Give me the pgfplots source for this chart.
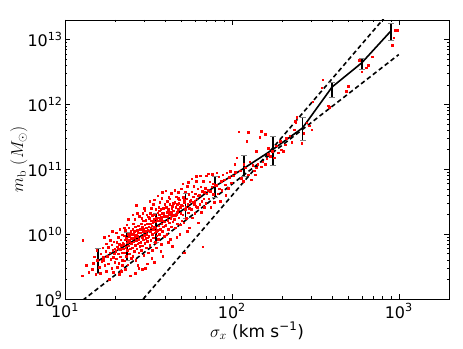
\documentclass[border=0pt]{standalone}
\usepackage[no-math]{fontspec}
\setmainfont{DejaVu Sans}
\usepackage{pgfplots}
\pgfplotsset{compat=1.18}

% binned median with asymmetric scatter
\pgfplotstableread{
x     y       ep      em
15.7  3.86e9  2.21e9  1.43e9
23.5  6.82e9  3.9e9   2.96e9
35.1  1.31e10 7.8e9   5.6e9
52.8  2.51e10 1.76e10 7.5e9
79    5.43e10 2.33e10 1.76e10
118.5 1.04e11 5.8e10  2.64e10
177   2.04e11 1.12e11 8.9e10
265   4.33e11 1.84e11 1.54e11
399   1.86e12 2.8e11  6.0e11
600   4.37e12 6.4e11  9.0e11
903   1.38e13 4.0e12  4.3e12
}\binned

\begin{document}
\begin{tikzpicture}
\useasboundingbox (-65bp,-50bp) rectangle (398bp,299bp);
\begin{axis}[
  at={(0,0)}, anchor=south west,
  scale only axis, width=384bp, height=279bp,
  xmode=log, ymode=log,
  xmin=10, xmax=2000, ymin=1e9, ymax=2e13,
  xtick={10,100,1000},
  xticklabels={10\textsuperscript{1},10\textsuperscript{2},10\textsuperscript{3}},
  ytick={1e9,1e10,1e11,1e12,1e13},
  yticklabels={10\textsuperscript{9},10\textsuperscript{10},10\textsuperscript{11},10\textsuperscript{12},10\textsuperscript{13}},
  tick align=inside,
  major tick length=5bp, minor tick length=2.5bp,
  tick style={black, line width=0.5bp},
  axis line style={line width=0.8bp},
  tick label style={font=\fontsize{16}{18}\selectfont},
  label style={font=\fontsize{17}{19}\selectfont},
  xticklabel style={yshift=-1bp},
  yticklabel style={xshift=1bp},
  xlabel={$\sigma_x$ (km s\textsuperscript{−1})},
  ylabel={$m_{\mathrm{b}}\ (M_{\odot})$},
  xlabel style={at={(axis description cs:0.5,-0.115)}, anchor=center},
  ylabel style={at={(axis description cs:-0.12,0.5)}, anchor=center},
]
% galaxies
\addplot[red, only marks, mark=square*, mark size=0.8bp, mark options={draw=none, fill=red}] coordinates {
(12.8,8.0e9) (12.7,2.3e9) (13.4,3.3e9) (13.9,2.6e9)
(14.5,2.9e9) (15.0,4.5e9) (15.3,2.4e9) (15.6,4.0e9) (14.8,3.6e9) (15.5,5.6e9)
(16.0,3.1e9) (16.2,2.5e9) (16.4,5.0e9) (16.6,3.8e9) (16.8,6.2e9) (17.0,4.4e9) (17.2,9.0e9) (17.3,3.3e9) (17.5,5.4e9) (17.6,2.7e9) (16.9,4.0e9) (17.7,7.1e9)
(17.9,4.6e9) (18.1,3.5e9) (18.2,6.3e9) (18.4,2.0e9) (18.5,5.2e9) (18.7,8.1e9) (18.8,4.1e9) (19.0,3.0e9) (19.1,6.9e9) (19.3,5.6e9) (19.4,4.4e9) (19.5,2.6e9) (19.6,7.6e9) (19.7,5.0e9) (19.8,3.7e9) (19.9,6.0e9) (18.3,9.4e9) (19.2,1.1e10)
(20.1,5.5e9) (20.2,4.2e9) (20.4,7.5e9) (20.5,3.1e9) (20.6,6.4e9) (20.8,9.0e9) (20.9,5.0e9) (21.0,3.6e9) (21.1,7.0e9) (21.3,1.2e10) (21.4,5.8e9) (21.5,4.5e9) (21.6,8.2e9) (21.7,2.7e9) (21.8,6.8e9) (21.9,5.2e9) (22.0,9.8e9) (22.1,4.0e9) (22.2,7.3e9) (22.3,6.0e9) (20.3,1.05e10) (21.2,2.4e9) (22.0,3.3e9) (20.7,6.0e9)
(22.5,7.0e9) (22.6,5.2e9) (22.7,9.5e9) (22.8,3.9e9) (22.9,8.2e9) (23.0,1.15e10) (23.1,6.3e9) (23.2,4.6e9) (23.3,8.8e9) (23.4,1.4e10) (23.5,7.4e9) (23.6,5.6e9) (23.7,1.0e10) (23.8,3.4e9) (23.9,8.0e9) (24.0,6.6e9) (24.1,1.25e10) (24.2,5.0e9) (24.3,9.2e9) (24.4,7.7e9) (24.5,2.3e9) (24.6,6.0e9) (24.7,1.1e10) (24.8,8.5e9) (24.9,4.3e9) (25.0,7.2e9) (23.0,2.9e9) (24.0,1.7e10) (22.6,1.25e10) (24.5,9.9e9)
(25.2,8.6e9) (25.3,6.2e9) (25.4,1.2e10) (25.5,4.6e9) (25.6,1.0e10) (25.7,1.45e10) (25.8,7.6e9) (25.9,5.5e9) (26.0,1.1e10) (26.1,1.7e10) (26.2,9.0e9) (26.3,6.8e9) (26.4,1.3e10) (26.5,4.0e9) (26.6,9.8e9) (26.7,8.0e9) (26.8,2.8e10) (26.9,6.0e9) (27.0,1.15e10) (27.1,9.3e9) (27.2,3.3e9) (27.3,7.1e9) (27.4,1.35e10) (27.5,1.05e10) (27.6,5.2e9) (27.7,8.4e9) (27.8,1.9e10) (27.9,7.4e9) (28.0,1.2e10) (28.1,6.5e9) (25.5,2.0e10) (26.4,2.5e9) (27.0,2.1e10) (27.6,3.0e9)
(28.3,1.05e10) (28.4,7.5e9) (28.5,1.45e10) (28.6,5.6e9) (28.7,1.2e10) (28.8,1.75e10) (28.9,9.0e9) (29.0,6.6e9) (29.1,1.3e10) (29.2,2.1e10) (29.3,1.1e10) (29.4,8.2e9) (29.5,1.6e10) (29.6,4.7e9) (29.7,1.2e10) (29.8,9.7e9) (29.9,2.5e10) (30.0,7.3e9) (30.1,1.4e10) (30.2,1.1e10) (30.3,3.0e9) (30.4,8.6e9) (30.5,1.65e10) (30.6,1.25e10) (30.7,6.2e9) (30.8,1.0e10) (30.9,2.0e10) (31.0,8.8e9) (31.1,1.45e10) (31.2,7.8e9) (31.3,1.15e10) (31.4,5.2e9) (31.5,1.85e10) (29.0,2.9e9) (30.0,2.3e10) (31.0,3.5e9)
(31.7,1.3e10) (31.8,9.2e9) (32.0,1.75e10) (32.1,6.8e9) (32.3,1.45e10) (32.4,2.1e10) (32.5,1.1e10) (32.7,8.0e9) (32.8,1.6e10) (32.9,2.5e10) (33.0,1.35e10) (33.2,1.0e10) (33.3,1.95e10) (33.4,5.7e9) (33.5,1.5e10) (33.7,1.2e10) (33.8,2.9e10) (33.9,8.8e9) (34.0,1.7e10) (34.2,1.3e10) (34.3,3.7e9) (34.4,1.05e10) (34.5,2.0e10) (34.6,1.55e10) (34.8,7.5e9) (34.9,1.25e10) (35.0,2.4e10) (35.1,1.1e10) (35.2,1.75e10) (35.4,9.5e9) (32.2,3.2e10) (33.1,4.3e9) (34.1,3.4e10) (35.3,6.2e9) (32.6,1.25e10) (33.6,1.6e10)
(35.6,1.6e10) (35.8,1.15e10) (35.9,2.15e10) (36.1,8.3e9) (36.2,1.8e10) (36.4,2.6e10) (36.5,1.35e10) (36.7,1.0e10) (36.8,2.0e10) (37.0,3.1e10) (37.1,1.65e10) (37.3,1.2e10) (37.4,2.4e10) (37.6,7.0e9) (37.7,1.85e10) (37.9,1.45e10) (38.0,3.6e10) (38.2,1.1e10) (38.3,2.1e10) (38.5,1.6e10) (38.6,4.6e9) (38.8,1.3e10) (38.9,2.5e10) (39.1,1.9e10) (39.2,9.3e9) (39.4,1.55e10) (39.5,2.9e10) (39.7,1.35e10) (36.0,3.9e10) (37.5,5.5e9) (38.1,4.4e10) (39.0,2.1e10) (36.6,2.3e10) (37.8,1.7e10)
(39.9,1.9e10) (40.1,1.4e10) (40.4,2.6e10) (40.6,1.0e10) (40.8,2.2e10) (41.0,3.2e10) (41.2,1.65e10) (41.4,1.2e10) (41.6,2.4e10) (41.8,3.7e10) (42.0,2.0e10) (42.2,1.5e10) (42.4,2.9e10) (42.6,8.4e9) (42.8,2.2e10) (43.0,1.75e10) (43.2,4.3e10) (43.4,1.3e10) (43.6,2.5e10) (43.8,1.95e10) (44.0,6.5e9) (44.2,1.55e10) (44.4,3.0e10) (44.6,2.3e10) (40.2,4.7e10) (41.5,7.5e9) (42.5,3.5e10) (43.9,2.7e10) (41.1,1.9e10) (43.3,2.1e10)
(44.8,2.3e10) (45.1,1.7e10) (45.4,3.1e10) (45.7,1.25e10) (46.0,2.6e10) (46.3,3.8e10) (46.6,2.0e10) (46.9,1.45e10) (47.2,2.9e10) (47.5,4.4e10) (47.8,2.4e10) (48.1,1.8e10) (48.4,3.4e10) (48.7,1.0e10) (49.0,2.6e10) (49.3,2.1e10) (49.6,5.0e10) (49.9,1.6e10) (45.5,4.8e10) (46.8,9.0e9) (48.0,3.0e10) (49.5,2.8e10) (47.0,2.2e10) (45.9,1.95e10) (48.9,1.4e10) (47.6,3.6e10)
(50.3,2.75e10) (50.7,2.0e10) (51.1,3.7e10) (51.5,1.5e10) (51.9,3.1e10) (52.3,4.5e10) (52.7,2.4e10) (53.1,1.75e10) (53.5,3.5e10) (53.9,5.5e10) (54.3,2.9e10) (54.7,2.15e10) (55.1,4.1e10) (55.5,1.25e10) (55.9,3.2e10) (52.0,5.2e9) (50.8,6.0e10) (54.0,1.1e10) (53.0,2.6e10) (55.3,2.5e10) (51.7,3.3e10) (54.9,6.3e10)
(56.5,3.3e10) (57.0,2.4e10) (57.5,4.5e10) (58.0,1.8e10) (58.5,3.8e10) (59.0,5.5e10) (59.5,2.9e10) (60.0,2.1e10) (60.5,4.2e10) (61.0,6.6e10) (61.5,3.5e10) (62.0,2.6e10) (62.5,5.0e10) (63.0,1.5e10) (57.3,7.2e10) (59.8,3.2e10) (61.2,7.8e10) (58.2,3.1e10) (60.7,2.7e10) (62.3,3.9e10)
(63.6,4.0e10) (64.3,2.9e10) (65.0,5.4e10) (65.7,2.2e10) (66.4,4.6e10) (67.1,6.6e10) (67.8,3.5e10) (68.5,2.6e10) (69.2,5.1e10) (69.9,8.0e10) (70.5,4.2e10) (67.0,6.4e9) (64.8,7.9e10) (68.0,4.4e10) (66.0,3.2e10) (69.5,3.0e10)
(71.5,4.8e10) (72.5,3.5e10) (73.5,6.4e10) (74.5,2.6e10) (75.5,5.4e10) (76.5,8.4e10) (77.5,4.1e10) (78.5,3.1e10) (72.0,8.6e10) (74.0,4.6e10) (77.0,6.0e10) (79.0,5.7e10)
(80.5,5.7e10) (82.0,4.2e10) (83.5,7.7e10) (85.0,3.2e10) (86.5,6.5e10) (88.0,8.3e10) (81.0,8.8e10) (84.0,5.0e10) (87.0,4.8e10) (85.5,6.5e10)
(90.0,6.9e10) (91.5,5.8e10) (93.0,8.8e10) (95.0,5.1e10) (96.5,7.6e10) (98.0,9.3e10) (99.0,6.2e10) (92.0,4.0e10)
(102,8.0e10) (104,1.2e11) (107,1.5e11) (110,3.8e11) (112,9.5e10) (114,7.3e10) (117,6.5e10) (120,1.05e11) (123,2.7e11) (125,3.7e11) (125,8.3e10) (128,1.3e11) (131,6.9e10) (133,1.15e11) (136,9.5e10) (140,1.9e11) (140,1.05e11) (143,1.2e11) (147,3.1e11) (150,3.9e11) (150,1.1e11) (105,9.0e10) (118,1.2e11) (138,8.3e10)
(153,1.3e11) (158,3.5e11) (158,1.2e11) (162,1.45e11) (165,2.1e11) (165,1.7e11) (170,1.6e11) (175,1.9e11) (180,1.5e11) (185,2.3e11) (190,1.8e11) (195,2.7e11) (198,2.0e11) (203,1.9e11) (208,2.4e11) (212,3.0e11) (222,3.3e11) (228,2.6e11) (236,4.1e11) (241,5.2e11) (244,6.4e11) (239,5.5e11)
(262,2.5e11) (270,3.6e11) (280,5.2e11) (290,4.7e11) (300,4.1e11) (305,1.1e12) (345,1.8e12) (350,2.4e12) (377,9.5e11) (382,9.0e11) (486,1.6e12) (496,1.9e12) (580,4.8e12) (600,3.2e12) (640,3.7e12) (655,4.0e12) (695,5.4e12) (910,8.1e12) (930,1.07e13) (980,1.4e13) (950,1.4e13)
};
% scaling relations
\addplot[black, line width=1.6bp, dash pattern=on 4.5bp off 3bp] coordinates {(10,3.92e7) (1000,3.92e13)};
\addplot[black, line width=1.6bp, dash pattern=on 4.5bp off 3bp] coordinates {(10,5.86e8) (1000,5.86e12)};
% binned relation
\addplot[black, line width=1.6bp, mark=none,
  error bars/.cd, y dir=both, y explicit,
  error bar style={line width=1.8bp, black},
  error mark options={rotate=90, mark size=3bp, line width=1bp, gray}]
  table[x=x, y=y, y error plus=ep, y error minus=em] {\binned};
\end{axis}
\end{tikzpicture}
\end{document}
